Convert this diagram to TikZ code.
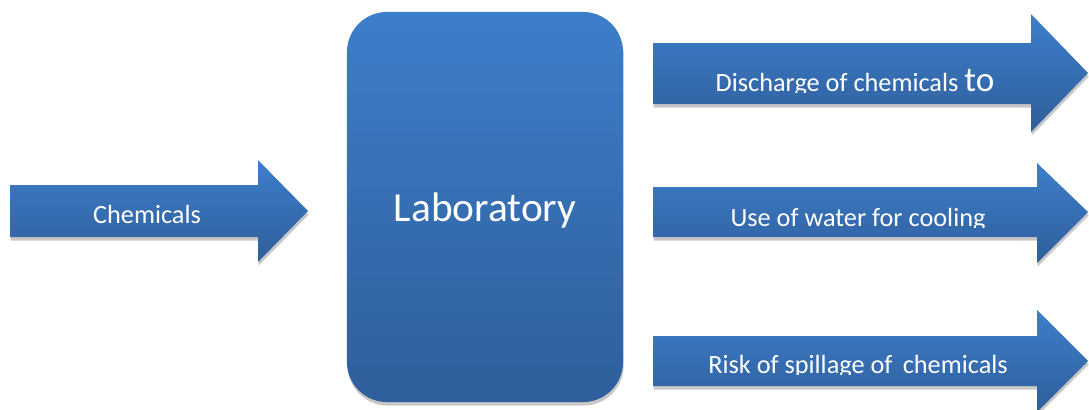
\documentclass[tikz,border=0pt]{standalone}
\usepackage{fontspec}
\setmainfont{Carlito}
\usetikzlibrary{positioning, calc, shadows}

\definecolor{blueTop}{HTML}{3D7ECA}
\definecolor{blueBot}{HTML}{2F5E9B}

\tikzset{
  blockfill/.style={top color=blueTop, bottom color=blueBot, draw=none,
    drop shadow={shadow xshift=0.5pt, shadow yshift=-2.5pt, opacity=0.22, fill=black}},
  arrowtext/.style={text=white, anchor=base, inner sep=0pt,
    font=\fontsize{18.7}{22}\selectfont},
}

\begin{document}
\begin{tikzpicture}[x=0.025cm, y=-0.025cm]
      \useasboundingbox (0,0) rectangle (1089,409);

      \node[blockfill, rounded corners=1cm, minimum width=6.9cm, minimum height=9.75cm,
        text=white, text depth=0pt, font=\fontsize{29.4}{34}\selectfont] (lab) at (485,207)
        {Laboratory};

      % input
      \path[blockfill] (10,185) -- (258,185) -- (258,160) -- (308,211)
        -- (258,262) -- (258,237) -- (10,237) -- cycle;
      \node[arrowtext] (chem_in) at (147,223) {Chemicals};

      % outputs
      \path[blockfill] (653,43) -- (1031,43) -- (1031,14) -- (1088,73)
        -- (1031,132) -- (1031,104) -- (653,104) -- cycle;
      \path[blockfill] (653,187) -- (1037,187) -- (1037,163) -- (1088,212)
        -- (1037,263) -- (1037,237) -- (653,237) -- cycle;
      \path[blockfill] (653,336) -- (1037,336) -- (1037,310) -- (1088,361)
        -- (1037,412) -- (1037,386) -- (653,386) -- cycle;

      \begin{scope}
        \clip (653,43) rectangle (1031,92);
        \node[arrowtext] (out_0) at (855,91)
          {Discharge of chemicals {\fontsize{25}{30}\selectfont to}};
      \end{scope}
      \begin{scope}
        \clip (653,187) rectangle (1037,227);
        \node[arrowtext] (out_1) at (858,226) {Use of water for cooling};
      \end{scope}
      \begin{scope}
        \clip (653,336) rectangle (1037,374);
        \node[arrowtext] (out_2) at (858,373) {Risk of spillage of\, chemicals};
      \end{scope}
\end{tikzpicture}
\end{document}
